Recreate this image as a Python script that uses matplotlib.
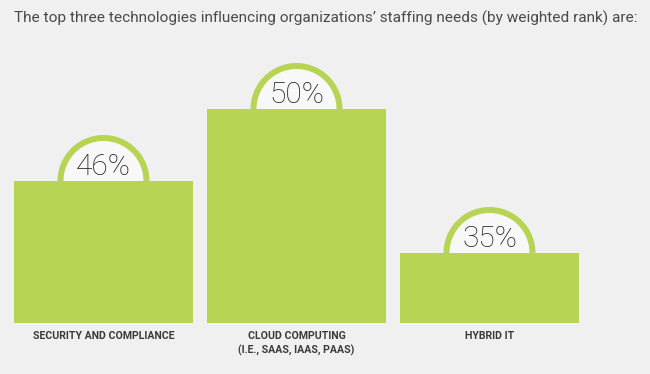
import matplotlib
matplotlib.use("Agg")
import matplotlib.pyplot as plt
from matplotlib.patches import Wedge, Circle

# chart data
categories = ["SECURITY AND COMPLIANCE", "CLOUD COMPUTING\n(I.E., SAAS, IAAS, PAAS)", "HYBRID IT"]
percents = [46, 50, 35]
bar_heights = [142, 214, 70]   # displayed bar heights (weighted rank), in pixels
title = "The top three technologies influencing organizations\u2019 staffing needs (by weighted rank) are:"

green = "#b8d455"
bg = "#f0f0f0"

fig = plt.figure(figsize=(6.5, 3.74), dpi=100)
fig.patch.set_facecolor(bg)
ax = fig.add_axes([0, 0, 1, 1])
ax.set_xlim(0, 650)
ax.set_ylim(0, 374)
ax.axis("off")

base = 51
width = 179
step = 193
centers = [103.5 + i * step for i in range(len(categories))]

ax.bar(centers, bar_heights, width=width, bottom=base, color=green, zorder=2)

for cx, h, p, lab in zip(centers, bar_heights, percents, categories):
    top = base + h
    # the handle on top of each bar
    ax.add_patch(Circle((cx, top), 43, facecolor="#f8f8f8", edgecolor="none", zorder=1))
    ax.add_patch(Wedge((cx, top), 46, 0, 180, width=6, facecolor=green, edgecolor="none", zorder=1))
    ax.text(cx, top + 6, f"{p}%", ha="center", va="baseline", fontsize=21.5,
            family="Roboto", fontweight="light", color="#1e1e1e", zorder=3)
    ax.text(cx, base - 8, lab, ha="center", va="top", fontsize=7.6,
            family="Roboto", fontweight="bold", color="#3a3a3a", linespacing=1.45)

ax.text(14, 374 - 18, title, ha="left", va="center", fontsize=11.05,
        family="Roboto", fontweight="normal", color="#4a4a4a")

fig.savefig("out.png", dpi=100, facecolor=bg)
